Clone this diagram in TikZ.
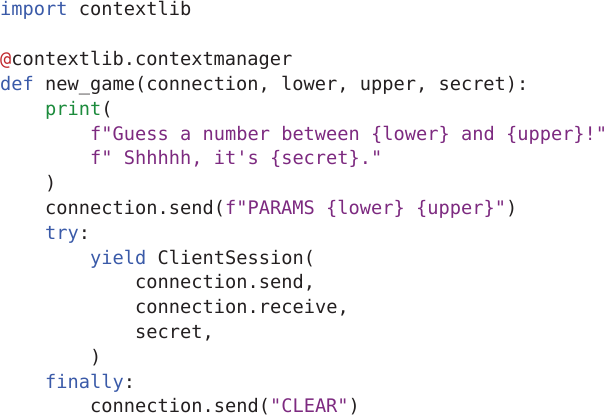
\documentclass[tikz,border=0pt]{standalone}
\usepackage{fontspec}
\setmonofont{DejaVu Sans Mono}
\definecolor{kwblue}{HTML}{3A5AA8}
\definecolor{fngreen}{HTML}{1C8B3C}
\definecolor{strpurple}{HTML}{7D2A80}
\definecolor{decored}{HTML}{C0282D}
\definecolor{codeblack}{HTML}{231F20}
\newcommand{\kw}[1]{\textcolor{kwblue}{#1}}
\newcommand{\fn}[1]{\textcolor{fngreen}{#1}}
\newcommand{\str}[1]{\textcolor{strpurple}{#1}}
\newcommand{\dec}[1]{\textcolor{decored}{#1}}

\begin{document}
\begin{tikzpicture}[x=1pt,y=1pt]
\tikzset{codeline/.style={anchor=base west, inner sep=0pt, text=codeblack,
  font=\fontsize{18.67}{24.8}\selectfont\ttfamily}}
\useasboundingbox (0,0) rectangle (607,-417);
\node[codeline] (L1) at (0,-16) {\kw{import} contextlib};
\node[codeline] (L3) at (0,-65.6) {\dec{@}contextlib.contextmanager};
\node[codeline] (L4) at (0,-90.4) {\kw{def} new\_game(connection, lower, upper, secret):};
\node[codeline] (L5) at (45,-115.2) {\fn{print}(};
\node[codeline] (L6) at (90,-140) {\str{f"Guess a number between \{lower\} and \{upper\}!"}};
\node[codeline] (L7) at (90,-164.8) {\str{f" Shhhhh, it's \{secret\}."}};
\node[codeline] (L8) at (45,-189.6) {)};
\node[codeline] (L9) at (45,-214.4) {connection.send(\str{f"PARAMS \{lower\} \{upper\}"})};
\node[codeline] (L10) at (45,-239.2) {\kw{try}:};
\node[codeline] (L11) at (90,-264) {\kw{yield} ClientSession(};
\node[codeline] (L12) at (135,-288.8) {connection.send,};
\node[codeline] (L13) at (135,-313.6) {connection.receive,};
\node[codeline] (L14) at (135,-338.4) {secret,};
\node[codeline] (L15) at (90,-363.2) {)};
\node[codeline] (L16) at (45,-388) {\kw{finally}:};
\node[codeline] (L17) at (90,-412.8) {connection.send(\str{"CLEAR"})};
\end{tikzpicture}
\end{document}
